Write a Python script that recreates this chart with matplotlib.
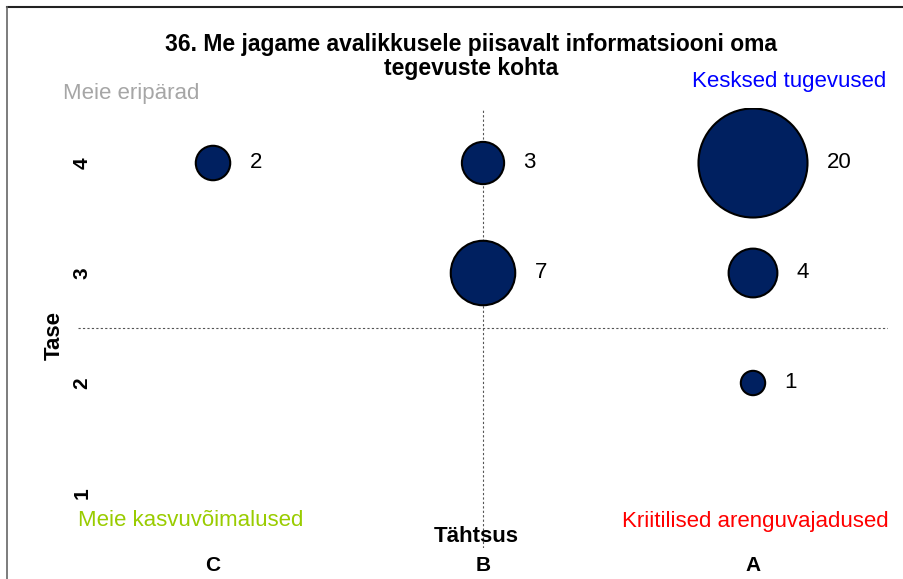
import matplotlib.pyplot as plt
from matplotlib.lines import Line2D

plt.rcParams['font.family'] = ['Liberation Sans', 'DejaVu Sans']

# importance category (x) and level (y) for each bubble, plus the count
categories = ['C', 'B', 'A']
imp = ['C', 'B', 'A', 'B', 'A', 'A']
level = [4, 4, 4, 3, 3, 2]
counts = [2, 3, 20, 7, 4, 1]

title_lines = ['36. Me jagame avalikkusele piisavalt informatsiooni oma',
               'tegevuste kohta']

xpos = [categories.index(c) + 1 for c in imp]
scale = 308  # points^2 per respondent

fig = plt.figure(figsize=(9.04, 5.79), dpi=100)
ax = fig.add_axes([78 / 904, 1 - 548 / 579, 810 / 904, 440 / 579])

ax.scatter(xpos, level, s=[c * scale for c in counts], color='#002060',
           edgecolors='black', linewidths=1.5, zorder=3)

for x, y, c in zip(xpos, level, counts):
    r = (c * scale) ** 0.5 / 2
    ax.annotate(str(c), (x, y), xytext=(r + 14, 0), textcoords='offset points',
                ha='left', va='center', fontsize=16)

ax.set_xlim(0.5, 3.5)
ax.set_ylim(0.5, 4.5)
ax.axvline(2, color='#555555', ls=(0, (2, 2)), lw=0.8, zorder=1)
ax.axhline(2.5, color='#555555', ls=(0, (2, 2)), lw=0.8, zorder=1)

ax.set_xticks([1, 2, 3])
ax.set_xticklabels(categories, fontsize=15, fontweight='bold')
ax.set_yticks([1, 2, 3, 4])
ax.set_yticklabels(['1', '2', '3', '4'], fontsize=15, fontweight='bold',
                   rotation=90, va='center')
ax.tick_params(axis='x', length=0, pad=6)
ax.tick_params(axis='y', length=0, pad=-9.5)
for s in ax.spines.values():
    s.set_visible(False)

ax.set_ylabel('Tase', fontsize=16, fontweight='bold')
ax.yaxis.set_label_coords(-0.016, 0.484)

fig.text(476 / 904, 1 - 537 / 579, 'Tähtsus', fontsize=16, fontweight='bold',
         ha='center', va='center')

# two-line title, one text per line
fig.text(471 / 904, 1 - 45 / 579, title_lines[0], fontsize=16.5,
         fontweight='bold', ha='center', va='center')
fig.text(471 / 904, 1 - 69 / 579, title_lines[1], fontsize=16.5,
         fontweight='bold', ha='center', va='center')

# quadrant names
fig.text(63 / 904, 1 - 94 / 579, 'Meie eripärad', color='#a6a6a6',
         fontsize=16, ha='left', va='center')
fig.text(886 / 904, 1 - 82 / 579, 'Kesksed tugevused', color='#0000ff',
         fontsize=16, ha='right', va='center')
fig.text(78 / 904, 1 - 520 / 579, 'Meie kasvuvõimalused', color='#99cc00',
         fontsize=16, ha='left', va='center')
fig.text(889 / 904, 1 - 521 / 579, 'Kriitilised arenguvajadused', color='#ff0000',
         fontsize=16, ha='right', va='center')

# chart frame
fig.add_artist(Line2D([7 / 904, 1], [1 - 7 / 579] * 2, color='#222222', lw=1.5))
fig.add_artist(Line2D([7 / 904] * 2, [0, 1 - 7 / 579], color='#666666', lw=1.2))

fig.savefig('out.png', dpi=100)
